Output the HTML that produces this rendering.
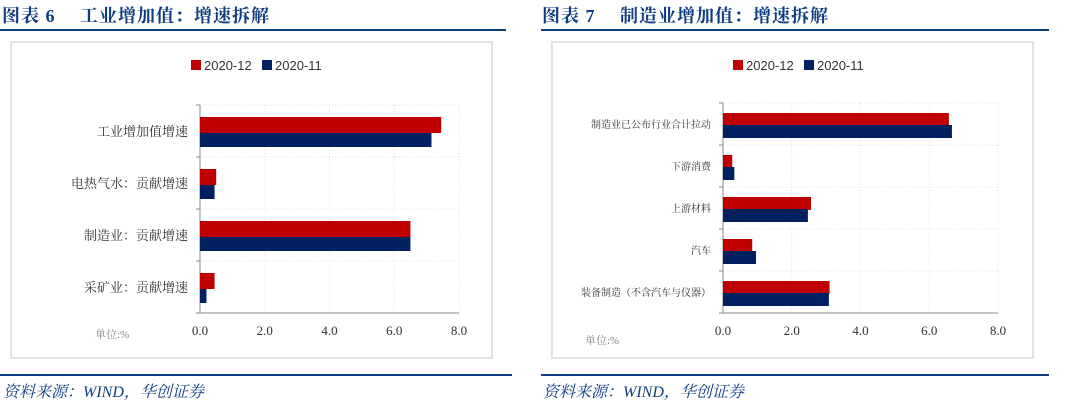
<!DOCTYPE html>
<html><head><meta charset="utf-8">
<style>
body{margin:0;width:1069px;height:404px;background:#fff;position:relative;overflow:hidden;font-family:"Liberation Serif","Noto Serif CJK SC",serif;}
.title{position:absolute;top:2px;font-size:18px;font-weight:bold;color:#0e3d82;white-space:pre;letter-spacing:1px;}
.rule{position:absolute;height:2px;background:#0e3d82;}
.src{position:absolute;top:379px;font-size:16px;font-style:italic;color:#0e3d82;}
svg{position:absolute;left:0;top:0;}
</style></head><body>
<div class="title" style="left:2px">图表 6　 工业增加值：增速拆解</div>
<div class="title" style="left:542px">图表 7　 制造业增加值：增速拆解</div>
<div class="rule" style="left:0;width:506px;top:29px"></div>
<div class="rule" style="left:541px;width:508px;top:29px"></div>
<div class="rule" style="left:0;width:512px;top:374px"></div>
<div class="rule" style="left:541px;width:508px;top:374px"></div>
<div class="src" style="left:3px">资料来源：WIND，华创证券</div>
<div class="src" style="left:543px">资料来源：WIND，华创证券</div>
<svg id="svg" width="1069" height="404"></svg>
<script>
const cats6=["工业增加值增速","电热气水：贡献增速","制造业：贡献增速","采矿业：贡献增速"];
const dec6=[7.45,0.5,6.5,0.45];
const nov6=[7.15,0.45,6.5,0.2];
const cats7=["制造业已公布行业合计拉动","下游消费","上游材料","汽车","装备制造（不含汽车与仪器）"];
const dec7=[6.57,0.27,2.56,0.85,3.1];
const nov7=[6.66,0.33,2.47,0.96,3.08];
const ticks=["0.0","2.0","4.0","6.0","8.0"];
const tickVals=[0,2,4,6,8];
const NS="http://www.w3.org/2000/svg";
const svg=document.getElementById('svg');
function el(t,a,txt){const e=document.createElementNS(NS,t);for(const k in a)e.setAttribute(k,a[k]);if(txt!=null)e.textContent=txt;svg.appendChild(e);return e;}
function chart(o){
  const box=el('rect',{x:o.bx,y:42,width:o.bw,height:316,fill:'#fff',stroke:'#d9d9d9','stroke-width':1.5});
  
  const x=v=>o.x0+(o.x1-o.x0)*v/8;
  const n=o.cats.length,bh=(o.y1-o.y0)/n;
  tickVals.forEach((v,i)=>{if(v>0){const g=el('line',{x1:x(v),x2:x(v),y1:o.y0,y2:o.y1,stroke:'#e6e6c8','stroke-dasharray':'1,2'});
    }
    const t=el('text',{x:x(v),y:o.y1+22,'text-anchor':'middle','font-size':13,fill:'#333','font-family':'Liberation Serif,serif'},ticks[i]);
    });
  for(let i=0;i<n;i++){const g=el('line',{x1:o.x0,x2:o.x1,y1:o.y0+i*bh,y2:o.y0+i*bh,stroke:'#e6e6c8','stroke-dasharray':'1,2'});
    }
  const ax=el('line',{x1:o.x0,x2:o.x0,y1:o.y0,y2:o.y1,stroke:'#888'});
  
  const bx=el('line',{x1:o.x0,x2:o.x1,y1:o.y1,y2:o.y1,stroke:'#888'});
  
  for(let i=0;i<=n;i++){const t=el('line',{x1:o.x0-4,x2:o.x0,y1:o.y0+i*bh,y2:o.y0+i*bh,stroke:'#888'});
    }
  o.cats.forEach((c,i)=>{
    const b=o.y0+i*bh;
    const r=el('rect',{x:o.x0,y:b+o.ro,width:x(o.dec[i])-o.x0,height:o.rh,fill:'#c00000'});
    
    const u=el('rect',{x:o.x0,y:b+o.bo,width:x(o.nov[i])-o.x0,height:o.bhh,fill:'#002060'});
    
    const t=el('text',{x:o.x0-12,y:b+bh/2+o.ly,'text-anchor':'end','font-size':o.fs,fill:'#333'},c);
    
  });
  const lx=o.lx;
  const l1=el('rect',{x:lx,y:60,width:10,height:10,fill:'#c00000'});
  const t1=el('text',{x:lx+13,y:70,'font-size':13,fill:'#333','font-family':'Liberation Sans,sans-serif'},'2020-12');
  const l2=el('rect',{x:lx+71,y:60,width:10,height:10,fill:'#002060'});
  const t2=el('text',{x:lx+84,y:70,'font-size':13,fill:'#333','font-family':'Liberation Sans,sans-serif'},'2020-11');
  const un=el('text',{x:o.ux,y:o.uy,'font-size':11,fill:'#888'},'单位:%');
}
chart({id:'chart6',bx:11,bw:481,x0:200,x1:459,y0:105,y1:313,cats:cats6,dec:dec6,nov:nov6,ro:12,rh:16,bo:28,bhh:14,ly:5,fs:13,lx:191,ux:95,uy:338});
chart({id:'chart7',bx:552,bw:481,x0:723,x1:998,y0:103,y1:313,cats:cats7,dec:dec7,nov:nov7,ro:10,rh:13,bo:22,bhh:13,ly:4,fs:10,lx:733,ux:585,uy:344});
</script>
</body></html>
